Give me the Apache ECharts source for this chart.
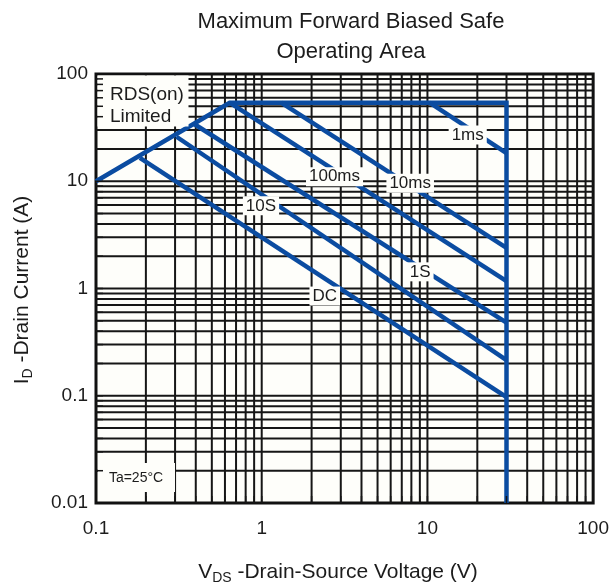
<!DOCTYPE html>
<html>
<head>
<meta charset="utf-8">
<script src="https://cdn.jsdelivr.net/npm/echarts@6/dist/echarts.min.js"></script>
<style>
  html, body { margin: 0; padding: 0; background: #ffffff; }
  #chart { width: 612px; height: 584px; }
</style>
</head>
<body>
<div id="chart"></div>
<script>
// Axis tick labels
const xTickLabels = [0.1, 1, 10, 100];
const yTickLabels = [0.01, 0.1, 1, 10, 100];

// Boundary of the safe operating area (V, A)
const rdsOnLimit = [[0.1, 10], [0.64, 54]];
const currentLimit = [[0.64, 54], [30, 54]];
const voltageLimit = [[30, 54], [30, 0.01]];

// Single-pulse limits (V, A)
const curve1ms = [[10.3, 54], [30, 18.3]];
const curve10ms = [[1.31, 54], [30, 2.39]];
const curve100ms = [[0.64, 54], [30, 1.17]];
const curve1s = [[0.393, 34], [30, 0.48]];
const curve10s = [[0.306, 26], [30, 0.215]];
const curveDC = [[0.184, 16.5], [30, 0.097]];

const curveNames = ['1ms', '10ms', '100ms', '1S', '10S', 'DC'];
const curveLabelAt = [[17.5, 27], [7.87, 9.6], [2.75, 11], [9.04, 1.43], [0.99, 5.9], [2.4, 0.85]];

const X_MIN = 0.1, X_MAX = 100, Y_MIN = 0.01, Y_MAX = 100;
const FONT = '"Liberation Sans", Arial, Helvetica, sans-serif';
const BLUE = '#0b4ca1';
const INK = '#1c1c1c';
const GRID_INK = '#161616';
const PLOT_BG = '#fefefa';

// log grid positions: 1..9 in every decade
function logGrid(lo, hi) {
  const out = [];
  for (let d = lo; d < hi * 0.999; d *= 10) {
    for (let m = 1; m <= 9; m++) {
      const v = +(m * d).toPrecision(6);
      if (v > lo * 1.0001 && v < hi * 0.9999) out.push(v);
    }
  }
  return out;
}
const gridX = logGrid(X_MIN, X_MAX);
const gridY = logGrid(Y_MIN, Y_MAX);
const gridItems = gridX.map(v => [v, 1, 0]).concat(gridY.map(v => [1, v, 1]));

function tickText(list) {
  return v => {
    const hit = list.find(t => Math.abs(Math.log10(t) - Math.log10(v)) < 1e-6);
    return hit === undefined ? '' : String(hit);
  };
}

function limitSeries(name, data, width) {
  return {
    name, type: 'line', data, symbol: 'none', silent: true, z: 3,
    lineStyle: { color: BLUE, width, cap: 'butt', join: 'miter' }
  };
}

const chart = echarts.init(document.getElementById('chart'), null, { renderer: 'canvas' });

chart.setOption({
  animation: false,
  textStyle: { fontFamily: FONT },
  grid: {
    left: 96, right: 16, top: 74, bottom: 81,
    show: true, backgroundColor: PLOT_BG, borderColor: '#111', borderWidth: 3
  },
  xAxis: {
    type: 'log', logBase: 10, min: X_MIN, max: X_MAX,
    axisLine: { show: false }, axisTick: { show: false }, splitLine: { show: false },
    axisLabel: { fontSize: 19, color: INK, margin: 16, formatter: tickText(xTickLabels), showMaxLabel: true, showMinLabel: true }
  },
  yAxis: {
    type: 'log', logBase: 10, min: Y_MIN, max: Y_MAX,
    axisLine: { show: false }, axisTick: { show: false }, splitLine: { show: false },
    axisLabel: { fontSize: 19, color: INK, margin: 8, formatter: tickText(yTickLabels), showMaxLabel: true, showMinLabel: true }
  },
  graphic: [
    {
      type: 'text', x: 351, y: 7, z: 5, silent: true,
      style: {
        text: 'Maximum Forward Biased Safe\nOperating Area',
        fontSize: 22, lineHeight: 30, fontFamily: FONT, fill: INK,
        align: 'center', verticalAlign: 'top'
      }
    },
    {
      type: 'text', x: 338, y: 572, z: 5, silent: true,
      style: {
        text: '{m|V}{s|DS}{m| -Drain-Source Voltage (V)}',
        align: 'center', verticalAlign: 'middle', fill: INK, fontFamily: FONT,
        rich: {
          m: { fontSize: 21, lineHeight: 26, fill: INK, fontFamily: FONT },
          s: { fontSize: 14, lineHeight: 15, verticalAlign: 'bottom', fill: INK, fontFamily: FONT }
        }
      }
    },
    {
      type: 'text', x: 22, y: 290, z: 5, silent: true, rotation: Math.PI / 2,
      style: {
        text: '{m|I}{s|D}{m| -Drain Current (A)}',
        align: 'center', verticalAlign: 'middle', fill: INK, fontFamily: FONT,
        rich: {
          m: { fontSize: 21, lineHeight: 26, fill: INK, fontFamily: FONT },
          s: { fontSize: 14, lineHeight: 15, verticalAlign: 'bottom', fill: INK, fontFamily: FONT }
        }
      }
    },
    // note boxes inside the plot
    {
      type: 'rect', z: 5, silent: true,
      shape: { x: 97.5, y: 75.5, width: 91, height: 51 },
      style: { fill: PLOT_BG }
    },
    {
      type: 'text', x: 110, y: 84, z: 5, silent: true,
      style: {
        text: 'RDS(on)\nLimited', fontSize: 19, lineHeight: 22, fontFamily: FONT,
        fill: INK, align: 'left', verticalAlign: 'top'
      }
    },
    {
      type: 'rect', z: 5, silent: true,
      shape: { x: 98, y: 463, width: 77, height: 29 },
      style: { fill: PLOT_BG }
    },
    {
      type: 'text', x: 136, y: 478, z: 5, silent: true,
      style: {
        text: 'Ta=25°C', fontSize: 14, fontFamily: FONT,
        fill: INK, align: 'center', verticalAlign: 'middle'
      }
    }
  ],
  series: [
    {
      name: 'grid', type: 'custom', silent: true, z: 1,
      data: gridItems,
      renderItem(params, api) {
        const kind = api.value(2);
        let a, b;
        if (kind === 0) {
          const x = api.value(0);
          a = api.coord([x, Y_MIN]); b = api.coord([x, Y_MAX]);
        } else {
          const y = api.value(1);
          a = api.coord([X_MIN, y]); b = api.coord([X_MAX, y]);
        }
        return {
          type: 'line',
          shape: { x1: a[0], y1: a[1], x2: b[0], y2: b[1] },
          style: { stroke: GRID_INK, lineWidth: 2 }
        };
      }
    },
    limitSeries('limit', rdsOnLimit.concat(currentLimit.slice(1), voltageLimit.slice(1)), 4.5),
    limitSeries('1ms', curve1ms, 4.5),
    limitSeries('10ms', curve10ms, 4.5),
    limitSeries('100ms', curve100ms, 4.5),
    limitSeries('1S', curve1s, 4.5),
    limitSeries('10S', curve10s, 4.5),
    limitSeries('DC', curveDC, 4.5),
    {
      name: 'labels', type: 'custom', silent: true, z: 4,
      data: curveLabelAt.map((p, i) => [p[0], p[1], i]),
      renderItem(params, api) {
        const p = api.coord([api.value(0), api.value(1)]);
        return {
          type: 'text', x: p[0], y: p[1],
          style: {
            text: curveNames[api.value(2)], fontSize: 17, fontFamily: FONT, fill: INK,
            align: 'center', verticalAlign: 'middle',
            backgroundColor: PLOT_BG, padding: [1, 3]
          }
        };
      }
    },
    {
      name: 'ticks', type: 'custom', silent: true, z: 6,
      data: gridItems,
      renderItem(params, api) {
        const kind = api.value(2);
        let a, b;
        if (kind === 0) {
          a = api.coord([api.value(0), Y_MIN]); b = [a[0], a[1] - 7];
        } else {
          a = api.coord([X_MIN, api.value(1)]); b = [a[0] + 7, a[1]];
        }
        return {
          type: 'line',
          shape: { x1: a[0], y1: a[1], x2: b[0], y2: b[1] },
          style: { stroke: GRID_INK, lineWidth: 1.5 }
        };
      }
    }
  ]
});
</script>
</body>
</html>
